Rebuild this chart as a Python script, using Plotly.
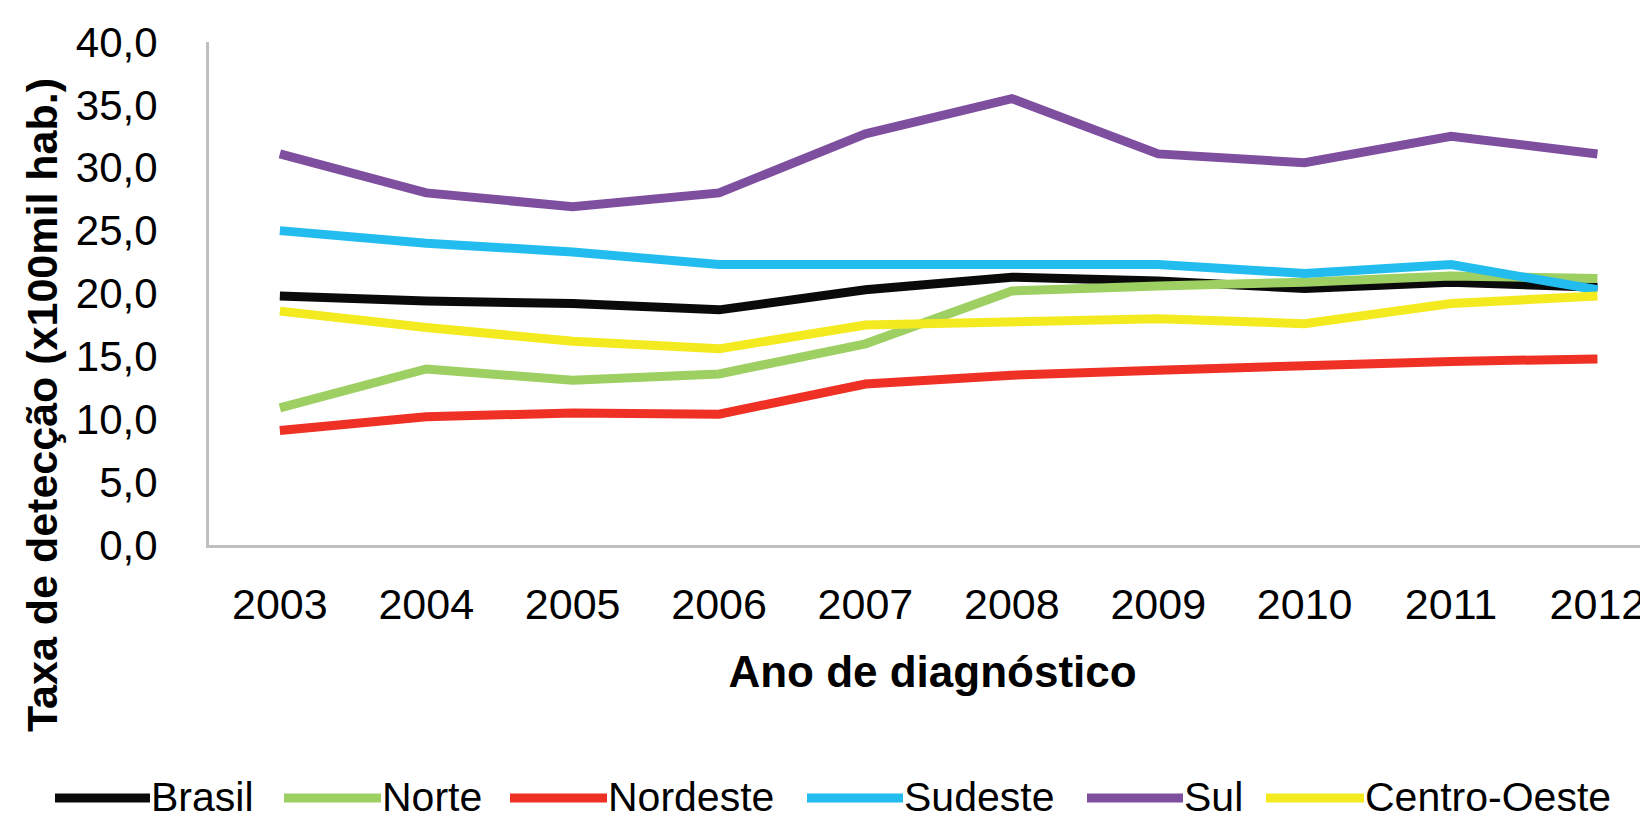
import plotly.graph_objects as go

years = ["2003", "2004", "2005", "2006", "2007", "2008", "2009", "2010", "2011", "2012"]
series_names = ["Brasil", "Norte", "Nordeste", "Sudeste", "Sul", "Centro-Oeste"]
brasil = [19.8, 19.4, 19.2, 18.7, 20.3, 21.3, 21.0, 20.4, 20.9, 20.5]
norte = [10.9, 14.0, 13.1, 13.6, 16.0, 20.2, 20.6, 20.9, 21.4, 21.2]
nordeste = [9.1, 10.2, 10.5, 10.4, 12.8, 13.5, 13.9, 14.3, 14.6, 14.8]
sudeste = [25.0, 24.0, 23.3, 22.3, 22.3, 22.3, 22.3, 21.6, 22.3, 20.3]
sul = [31.1, 28.0, 26.9, 28.0, 32.7, 35.5, 31.1, 30.4, 32.5, 31.1]
centro_oeste = [18.6, 17.3, 16.2, 15.6, 17.5, 17.8, 18.0, 17.6, 19.2, 19.8]
colors = ["#0a0a0a", "#9ecf63", "#ee3124", "#22bdee", "#7f4f9f", "#f3eb1f"]
y_ticks = [0, 5, 10, 15, 20, 25, 30, 35, 40]

FONT = "Liberation Sans, Arial, sans-serif"
W, H = 1648, 817
ML, MR, MT, MB = 201, 0, 34, 280
PW, PH = W - ML - MR, H - MT - MB

fig = go.Figure()
all_series = [brasil, norte, nordeste, sudeste, sul, centro_oeste]
for name, vals, col in zip(series_names, all_series, colors):
    fig.add_trace(go.Scatter(x=years, y=vals, name=name, mode="lines",
                             line=dict(color=col, width=9), showlegend=False))

def px_x(p):
    return (p - ML) / PW

def px_y(p):
    return (H - MB - p) / PH

# manual legend (long line samples like the original)
legend_lines = [(47, 142), (276, 373), (502, 599), (799, 895), (1079, 1175), (1258, 1356)]
ly = 790
shapes = []
annotations = []
for (x0, x1), name, col in zip(legend_lines, series_names, colors):
    shapes.append(dict(type="line", xref="paper", yref="paper",
                       x0=px_x(x0), x1=px_x(x1), y0=px_y(ly), y1=px_y(ly),
                       line=dict(color=col, width=9)))
    annotations.append(dict(text=name, xref="paper", yref="paper",
                            x=px_x(x1 - 1), y=px_y(ly - 1), xanchor="left", yanchor="middle",
                            showarrow=False, font=dict(family=FONT, size=41, color="#000")))

# y-axis title placed as a rotated annotation (centred lower than the plot centre, as in the original)
annotations.append(dict(text="<b>Taxa de detecção (x100mil hab.)</b>", xref="paper", yref="paper",
                        x=px_x(34), y=px_y(397), xanchor="center", yanchor="middle",
                        textangle=-90, showarrow=False,
                        font=dict(family=FONT, size=43, color="#000")))

fig.update_layout(
    width=W, height=H,
    margin=dict(l=ML, r=MR, t=MT, b=MB),
    paper_bgcolor="white", plot_bgcolor="white",
    separators=",.",
    font=dict(family=FONT, color="#000"),
    shapes=shapes, annotations=annotations,
    xaxis=dict(
        type="category", range=[-0.484, 9.40],
        showline=True, linecolor="#bfbfbf", linewidth=3,
        showgrid=False, zeroline=False, ticks="",
        tickfont=dict(family=FONT, size=43, color="#000"),
        ticklabelstandoff=19,
        title=dict(text="<b>Ano de diagnóstico</b>", font=dict(family=FONT, size=44, color="#000"),
                   standoff=30),
    ),
    yaxis=dict(
        range=[0, 40], tickvals=y_ticks, tickformat=".1f",
        showline=True, linecolor="#bfbfbf", linewidth=3,
        showgrid=False, zeroline=False, ticks="",
        tickfont=dict(family=FONT, size=42, color="#000"),
        ticklabelstandoff=40,
    ),
)

fig.write_html("out.html")
